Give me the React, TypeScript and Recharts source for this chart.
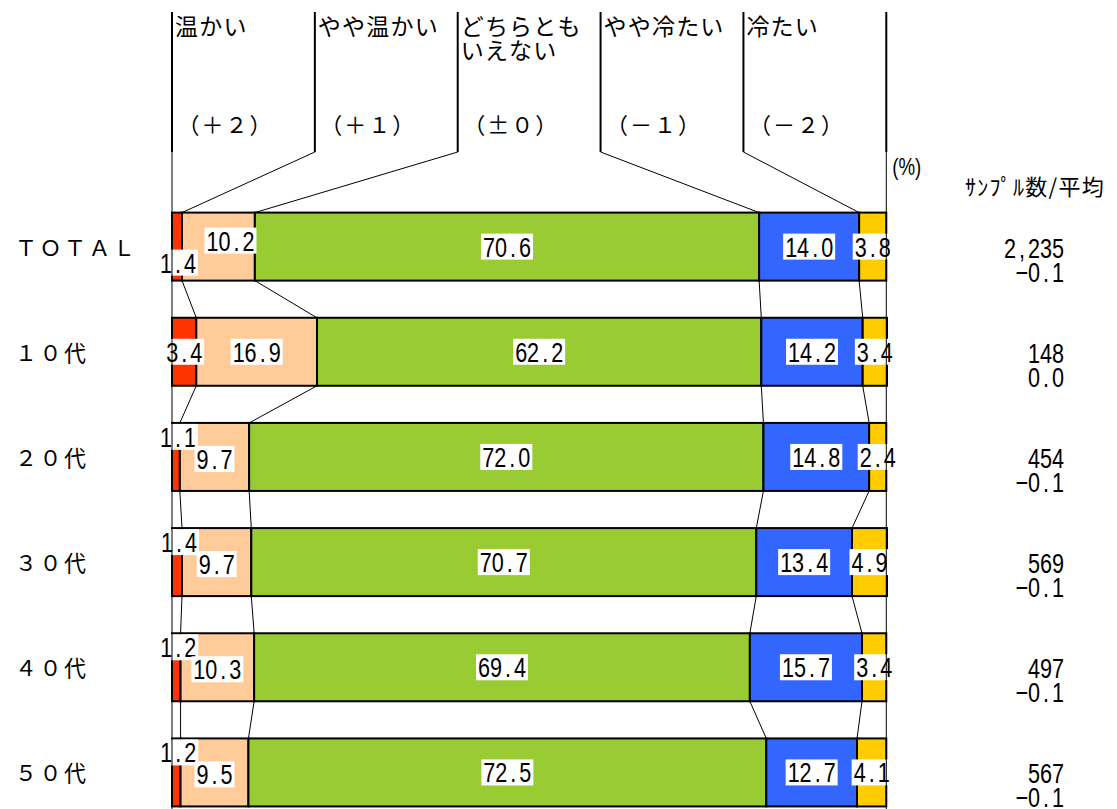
import { Bar, BarChart, XAxis, YAxis } from 'recharts'

const groups = ['ＴＯＴＡＬ', '１０代', '２０代', '３０代', '４０代', '５０代']
const warm = [1.4, 3.4, 1.1, 1.4, 1.2, 1.2]
const slightlyWarm = [10.2, 16.9, 9.7, 9.7, 10.3, 9.5]
const neutral = [70.6, 62.2, 72.0, 70.7, 69.4, 72.5]
const slightlyCold = [14.0, 14.2, 14.8, 13.4, 15.7, 12.7]
const cold = [3.8, 3.4, 2.4, 4.9, 3.4, 4.1]
const samples = ['2,235', '148', '454', '569', '497', '567']
const averages = [-0.1, 0.0, -0.1, -0.1, -0.1, -0.1]

const headerTitles = [['温かい'], ['やや温かい'], ['どちらとも', 'いえない'], ['やや冷たい'], ['冷たい']]
const headerScores = ['（＋２）', '（＋１）', '（±０）', '（－１）', '（－２）']
const headerTicks = [0, 20, 40, 60, 80, 100]

const KEYS = ['warm', 'slightlyWarm', 'neutral', 'slightlyCold', 'cold']
const COLORS = ['#ff3300', '#ffcc99', '#99cc33', '#3366ff', '#ffcc00']

const rows = groups.map((g, i) => ({
  group: g,
  warm: warm[i],
  slightlyWarm: slightlyWarm[i],
  neutral: neutral[i],
  slightlyCold: slightlyCold[i],
  cold: cold[i],
}))

const FONT = "'Noto Sans CJK JP', sans-serif"
const NUM_FONT = "'Liberation Sans', Arial, sans-serif"
const GAP = 18.6
const HEADER_TOP = 12
const HEADER_BOTTOM = 152
const CELL = 12

const sum = (a: number[]) => a.reduce((s, v) => s + v, 0)
const rowValues = (r: any): number[] => KEYS.map((k) => r[k])
const fmt = (v: number) => v.toFixed(1).replace('-', '−')

function labelOffset(row: number, seg: number, vals: number[]): [number, number] {
  if (vals[0] >= 2) return [0, 0]
  if (seg === 0) return row === 0 ? [1, 16] : [2, -20]
  if (seg === 1) return row === 0 ? [12, -6] : [0, 2]
  return [0, 0]
}

// monospaced look: every character gets its own half-width cell
function MonoText({ left, baseline, text }: any) {
  const sx = 0.8
  const xs = text.split('').map((_: string, i: number) => ((i + 0.5) * CELL) / sx)
  return (
    <g transform={`translate(${left},${baseline}) scale(${sx},1)`}>
      <text x={xs.join(' ')} y={0} fontFamily={NUM_FONT} fontSize={27} textAnchor="middle" fill="#000">
        {text}
      </text>
    </g>
  )
}

function NumLabel({ cx, cy, text, anchor = 'middle', box = true }: any) {
  const w = text.length * CELL
  const left = anchor === 'end' ? cx - w : cx - w / 2
  return (
    <g>
      {box && <rect x={left - 2} y={cy - 13} width={w + 4} height={26} fill="#fff" />}
      <MonoText left={left} baseline={cy + 10} text={text} />
    </g>
  )
}

function Segment(props: any) {
  const { x, y, width, height, payload, seg } = props
  const index = props.index ?? rows.findIndex((r) => r.group === payload.group)
  const vals = rowValues(payload)
  const factor = width / vals[seg]
  const x0 = x - sum(vals.slice(0, seg)) * factor
  const right = x + width
  const next = rows[index + 1]

  return (
    <g>
      <rect x={x} y={y} width={width} height={height} fill={COLORS[seg]} stroke="#000" strokeWidth={2} />
      {seg < 4 && next && (
        <line
          x1={right}
          y1={y + height}
          x2={x0 + sum(rowValues(next).slice(0, seg + 1)) * factor}
          y2={y + height + GAP * 2}
          stroke="#000"
          strokeWidth={1}
        />
      )}
      {seg < 4 && index === 0 && (
        <line x1={right} y1={y} x2={x0 + headerTicks[seg + 1] * factor} y2={HEADER_BOTTOM} stroke="#000" strokeWidth={1} />
      )}
      {seg === 4 &&
        vals.map((v, j) => {
          const [dx, dy] = labelOffset(index, j, vals)
          const sx = x0 + sum(vals.slice(0, j)) * factor
          return <NumLabel key={j} cx={sx + (v * factor) / 2 + dx} cy={y + height / 2 + dy} text={fmt(v)} />
        })}
    </g>
  )
}

function HeaderTick(props: any) {
  const { x, payload } = props
  const i = headerTicks.indexOf(payload.value)
  const edge = i === 0 || i === headerTicks.length - 1
  return (
    <g>
      <line x1={x} y1={HEADER_TOP} x2={x} y2={HEADER_BOTTOM} stroke="#000" strokeWidth={2} />
      {edge && <line x1={x} y1={HEADER_BOTTOM} x2={x} y2={830} stroke="#000" strokeWidth={1} />}
      {i < headerTitles.length &&
        headerTitles[i].map((t, k) => (
          <text key={k} x={x + 3} y={35 + k * 24} fontFamily={FONT} fontSize={23} letterSpacing={1.2} fill="#000">
            {t}
          </text>
        ))}
      {i < headerScores.length && (
        <text x={x + 5.5} y={133} fontFamily={FONT} fontSize={22} letterSpacing={2} fill="#000">
          {headerScores[i]}
        </text>
      )}
      {i === headerTicks.length - 1 && (
        <text
          x={x + 6}
          y={175}
          fontFamily={NUM_FONT}
          fontSize={24}
          textLength={29}
          lengthAdjust="spacingAndGlyphs"
          fill="#000"
        >
          (%)
        </text>
      )}
    </g>
  )
}

function GroupTick(props: any) {
  const { y, payload } = props
  return (
    <text x={15} y={y + 9} fontFamily={FONT} fontSize={22} letterSpacing={2.5} fill="#000">
      {payload.value}
    </text>
  )
}

function SampleTick(props: any) {
  const { y, index } = props
  return (
    <g>
      <NumLabel cx={1064} cy={y + 1} text={samples[index]} anchor="end" box={false} />
      <NumLabel cx={1064} cy={y + 25} text={fmt(averages[index])} anchor="end" box={false} />
      {index === 0 && (
        <text x={965} y={y - 52} fontFamily={FONT} fontSize={22} letterSpacing={1.3} fill="#000">
          ｻﾝﾌﾟﾙ数/平均
        </text>
      )}
    </g>
  )
}

export default function App() {
  return (
    <div style={{ position: 'fixed', left: 0, top: 0, width: 1117, height: 809, overflow: 'hidden', background: '#fff' }}>
      <BarChart
        width={1117}
        height={830}
        data={rows}
        layout="vertical"
        barCategoryGap={GAP}
        margin={{ top: 0, right: 0, bottom: 5, left: 0 }}
      >
        <XAxis
          type="number"
          orientation="top"
          domain={[0, 100]}
          ticks={headerTicks}
          interval={0}
          height={194}
          axisLine={false}
          tickLine={false}
          tick={<HeaderTick />}
        />
        <YAxis yAxisId="l" type="category" dataKey="group" width={172} axisLine={false} tickLine={false} tick={<GroupTick />} />
        <YAxis
          yAxisId="r"
          type="category"
          dataKey="group"
          orientation="right"
          width={230}
          axisLine={false}
          tickLine={false}
          tick={<SampleTick />}
        />
        {KEYS.map((k, s) => (
          <Bar
            key={k}
            yAxisId="l"
            dataKey={k}
            stackId="a"
            fill={COLORS[s]}
            isAnimationActive={false}
            shape={(p: any) => <Segment {...p} seg={s} />}
          />
        ))}
      </BarChart>
    </div>
  )
}
